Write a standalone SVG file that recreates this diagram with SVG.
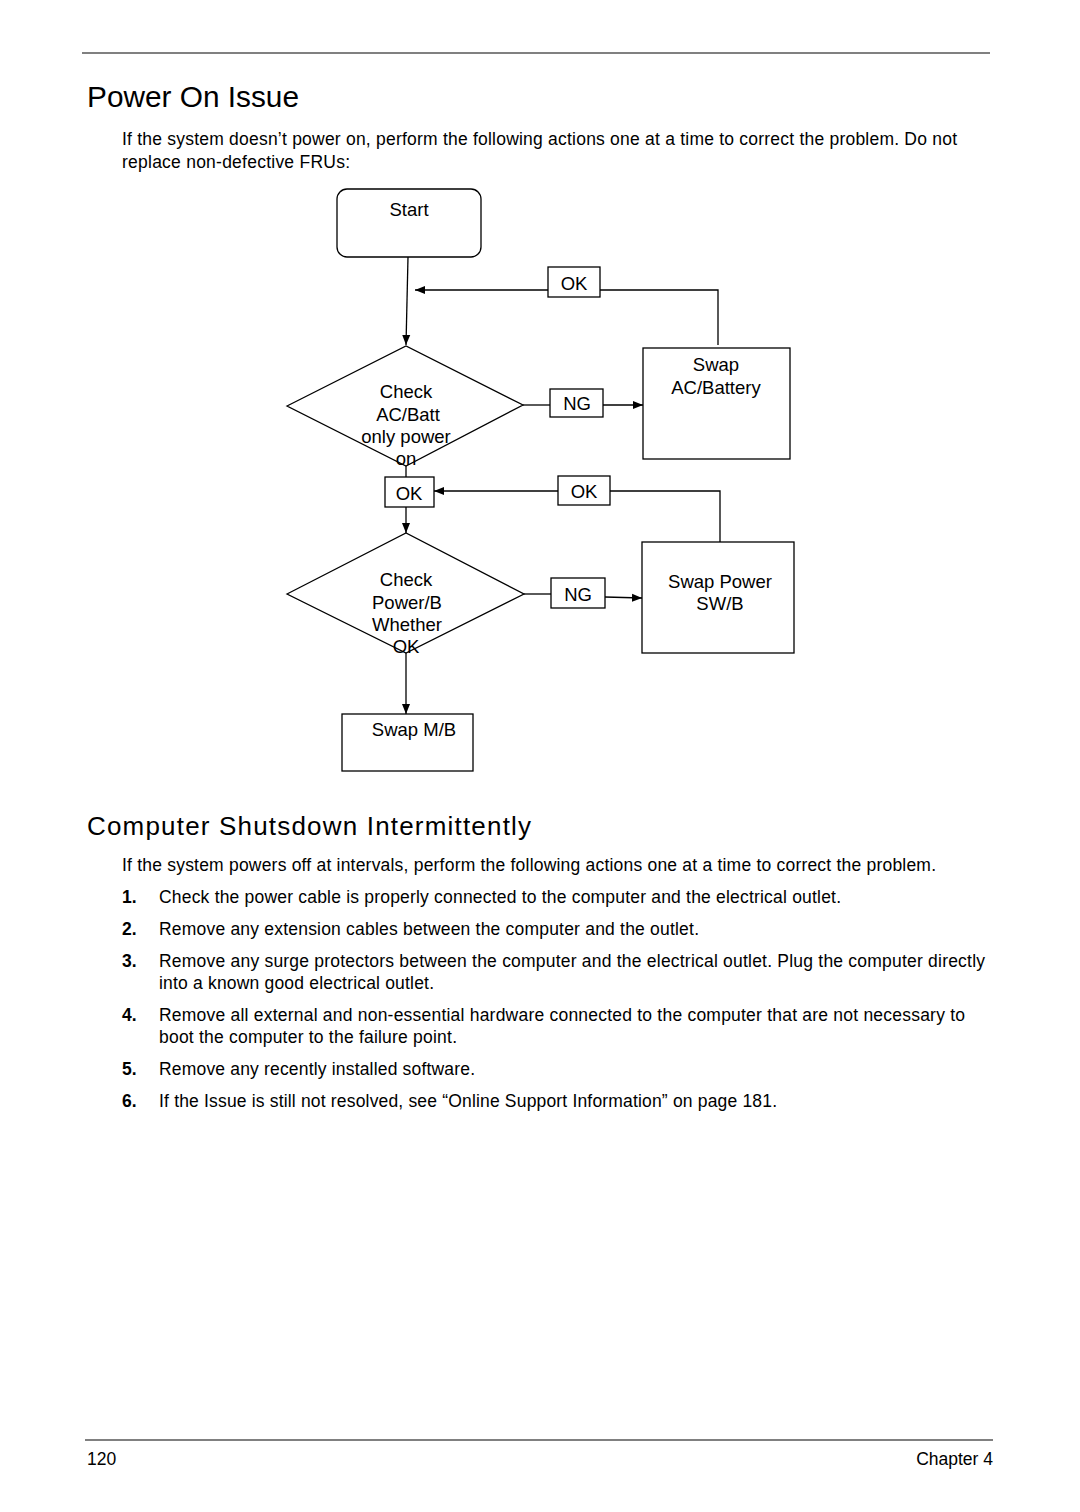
<svg xmlns="http://www.w3.org/2000/svg" width="1080" height="1512" viewBox="0 0 1080 1512">
<style>
text{font-family:"Liberation Sans",Arial,sans-serif;fill:#000}
.body{font-size:17.5px}
.h1{font-size:30px}
.h2{font-size:26px}
.n{font-weight:bold}
.lbl{font-size:18.5px;text-anchor:middle}
.shape{fill:#fff;stroke:#000;stroke-width:1.3}
.conn{fill:none;stroke:#000;stroke-width:1.3}
.rule{stroke:#808080;stroke-width:2}
</style>
<defs>
<marker id="ah" viewBox="0 0 10 10" refX="10" refY="5" markerWidth="10" markerHeight="10" markerUnits="userSpaceOnUse" orient="auto">
<path d="M0,1 L10,5 L0,9 Z" fill="#000"/>
</marker>
</defs>
<rect width="1080" height="1512" fill="#fff"/>
<line class="rule" x1="82" y1="53" x2="990" y2="53"/>
<text class="h1" x="87" y="107" textLength="212" lengthAdjust="spacingAndGlyphs">Power On Issue</text>
<text class="body" x="122" y="145" textLength="835" lengthAdjust="spacing">If the system doesn’t power on, perform the following actions one at a time to correct the problem. Do not</text>
<text class="body" x="122" y="168" textLength="228" lengthAdjust="spacing">replace non-defective FRUs:</text>

<g id="connectors">
<path class="conn" d="M408,257 L406,345" marker-end="url(#ah)"/>
<path class="conn" d="M548,290 L415,290" marker-end="url(#ah)"/>
<path class="conn" d="M600,290 L718,290 L718,345"/>
<path class="conn" d="M523,405 L550,405"/>
<path class="conn" d="M603,405 L643,405" marker-end="url(#ah)"/>
<path class="conn" d="M406,466 L406,477"/>
<path class="conn" d="M558,491 L434,491" marker-end="url(#ah)"/>
<path class="conn" d="M610,491 L720,491 L720,542"/>
<path class="conn" d="M406,507 L406,533" marker-end="url(#ah)"/>
<path class="conn" d="M524,594 L551,594"/>
<path class="conn" d="M605,597 L642,598" marker-end="url(#ah)"/>
<path class="conn" d="M406,653 L406,714" marker-end="url(#ah)"/>
</g>

<g id="start">
<rect class="shape" x="337" y="189" width="144" height="68" rx="10"/>
<text class="lbl" x="409" y="216">Start</text>
</g>
<g id="ok1">
<rect class="shape" x="548" y="267" width="52" height="30"/>
<text class="lbl" x="574" y="290">OK</text>
</g>
<g id="check-acbatt">
<polygon class="shape" points="287,406 406,346 523,405 406,466" style="fill:none"/>
<text class="lbl" x="406" y="398">Check</text>
<text class="lbl" x="408" y="421">AC/Batt</text>
<text class="lbl" x="406" y="443">only power</text>
<text class="lbl" x="406" y="465">on</text>
</g>
<g id="ng1">
<rect class="shape" x="550" y="389" width="53" height="28"/>
<text class="lbl" x="577" y="410">NG</text>
</g>
<g id="swap-acbattery">
<rect class="shape" x="643" y="348" width="147" height="111"/>
<text class="lbl" x="716" y="371">Swap</text>
<text class="lbl" x="716" y="394">AC/Battery</text>
</g>
<g id="ok2">
<rect class="shape" x="385" y="477" width="49" height="30"/>
<text class="lbl" x="409" y="500">OK</text>
</g>
<g id="ok3">
<rect class="shape" x="558" y="476" width="52" height="29"/>
<text class="lbl" x="584" y="498">OK</text>
</g>
<g id="check-powerb">
<polygon class="shape" points="287,594 406,533 524,594 406,653" style="fill:none"/>
<text class="lbl" x="406" y="586">Check</text>
<text class="lbl" x="407" y="609">Power/B</text>
<text class="lbl" x="407" y="631">Whether</text>
<text class="lbl" x="406" y="653">OK</text>
</g>
<g id="ng2">
<rect class="shape" x="551" y="578" width="54" height="30"/>
<text class="lbl" x="578" y="601">NG</text>
</g>
<g id="swap-power-swb">
<rect class="shape" x="642" y="542" width="152" height="111"/>
<text class="lbl" x="720" y="588">Swap Power</text>
<text class="lbl" x="720" y="610">SW/B</text>
</g>
<g id="swap-mb">
<rect class="shape" x="342" y="714" width="131" height="57"/>
<text class="lbl" x="414" y="736">Swap M/B</text>
</g>

<text class="h2" x="87" y="835" textLength="444" lengthAdjust="spacing">Computer Shutsdown Intermittently</text>
<text class="body" x="122" y="871" textLength="814" lengthAdjust="spacing">If the system powers off at intervals, perform the following actions one at a time to correct the problem.</text>
<text class="body n" x="122" y="903">1.</text>
<text class="body" x="159" y="903" textLength="682" lengthAdjust="spacing">Check the power cable is properly connected to the computer and the electrical outlet.</text>
<text class="body n" x="122" y="935">2.</text>
<text class="body" x="159" y="935" textLength="540" lengthAdjust="spacing">Remove any extension cables between the computer and the outlet.</text>
<text class="body n" x="122" y="967">3.</text>
<text class="body" x="159" y="967" textLength="826" lengthAdjust="spacing">Remove any surge protectors between the computer and the electrical outlet. Plug the computer directly</text>
<text class="body" x="159" y="989" textLength="275" lengthAdjust="spacing">into a known good electrical outlet.</text>
<text class="body n" x="122" y="1021">4.</text>
<text class="body" x="159" y="1021" textLength="806" lengthAdjust="spacing">Remove all external and non-essential hardware connected to the computer that are not necessary to</text>
<text class="body" x="159" y="1043" textLength="298" lengthAdjust="spacing">boot the computer to the failure point.</text>
<text class="body n" x="122" y="1075">5.</text>
<text class="body" x="159" y="1075" textLength="316" lengthAdjust="spacing">Remove any recently installed software.</text>
<text class="body n" x="122" y="1107">6.</text>
<text class="body" x="159" y="1107" textLength="618" lengthAdjust="spacing">If the Issue is still not resolved, see “Online Support Information” on page 181.</text>

<line class="rule" x1="85" y1="1440" x2="993" y2="1440"/>
<text class="body" x="87" y="1465">120</text>
<text class="body" x="993" y="1465" text-anchor="end">Chapter 4</text>
</svg>
